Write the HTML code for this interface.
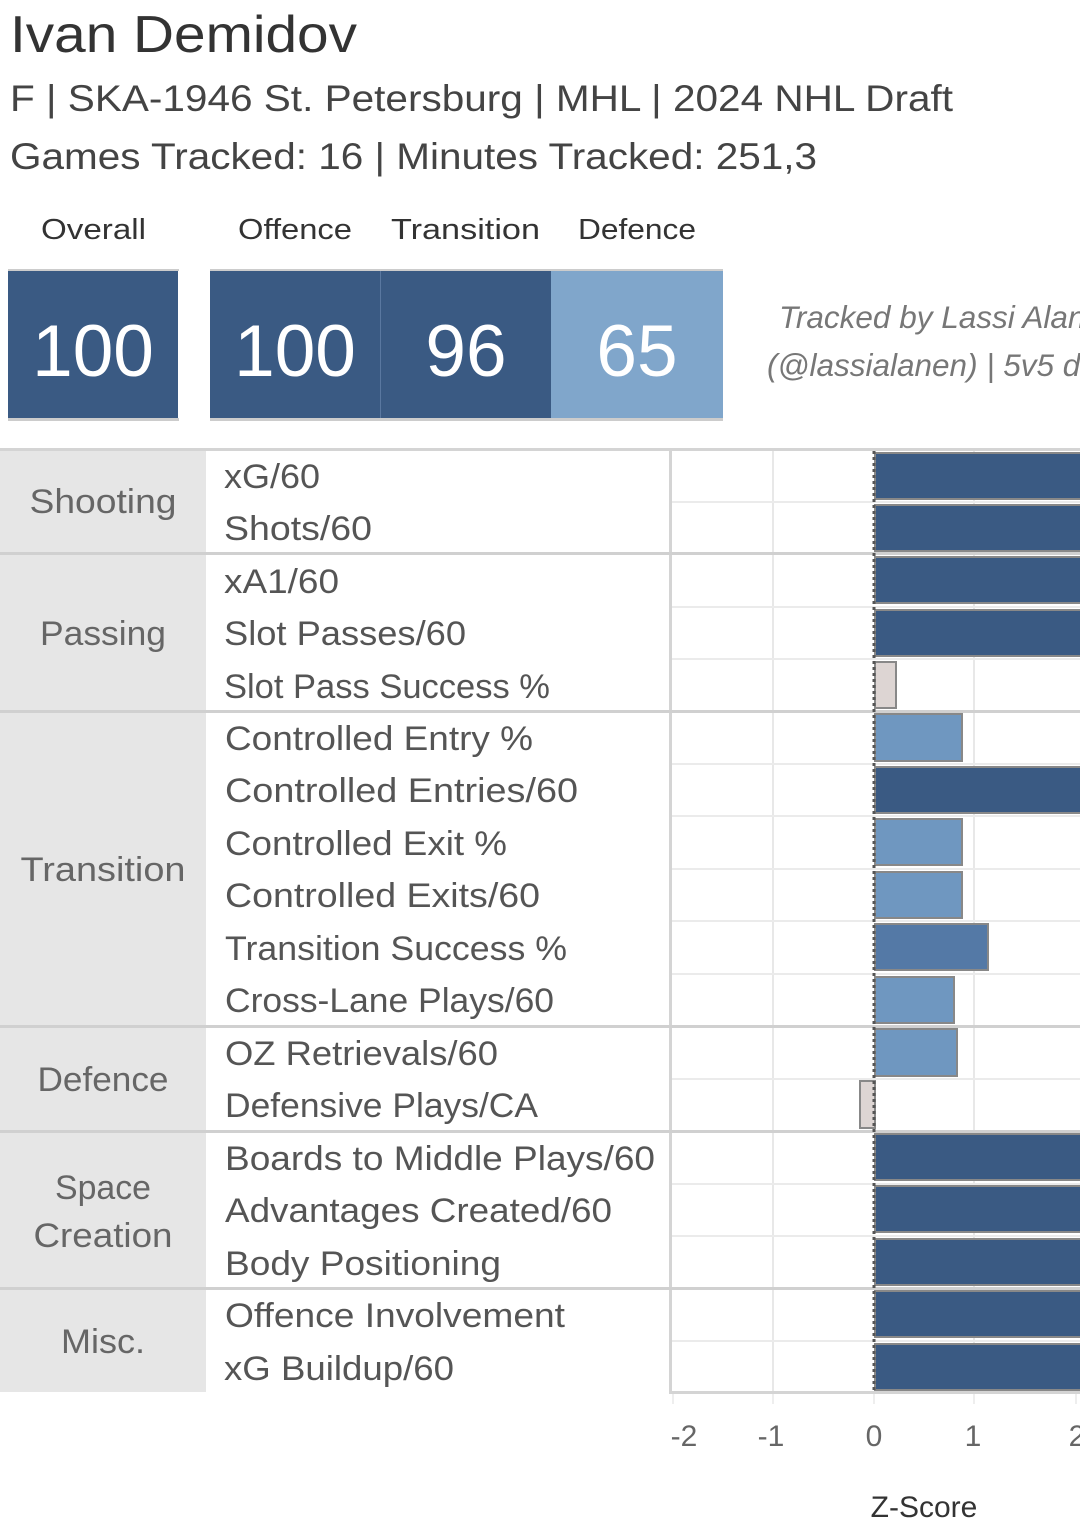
<!DOCTYPE html>
<html><head><meta charset="utf-8"><style>
html,body{margin:0;padding:0;background:#fff;}
svg{display:block;font-family:"Liberation Sans",sans-serif;}
</style></head><body>
<svg width="1080" height="1521" viewBox="0 0 1080 1521" xmlns="http://www.w3.org/2000/svg">
<rect width="1080" height="1521" fill="#fff"/>
<text x="10" y="52" font-size="52" fill="#333" textLength="347" lengthAdjust="spacingAndGlyphs">Ivan Demidov</text>
<text x="10" y="111" font-size="37" fill="#444" textLength="943" lengthAdjust="spacingAndGlyphs">F | SKA-1946 St. Petersburg | MHL | 2024 NHL Draft</text>
<text x="10" y="169" font-size="37" fill="#444" textLength="807" lengthAdjust="spacingAndGlyphs">Games Tracked: 16 | Minutes Tracked: 251,3</text>
<g font-size="29" fill="#333">
<text x="41" y="239" textLength="105" lengthAdjust="spacingAndGlyphs">Overall</text>
<text x="238" y="239" textLength="114" lengthAdjust="spacingAndGlyphs">Offence</text>
<text x="391" y="239" textLength="149" lengthAdjust="spacingAndGlyphs">Transition</text>
<text x="578" y="239" textLength="118" lengthAdjust="spacingAndGlyphs">Defence</text>
</g>
<rect x="8" y="269" width="171" height="2" fill="#ccc"/>
<rect x="210" y="269" width="513" height="2" fill="#ccc"/>
<rect x="8" y="271" width="170" height="147" fill="#3a5a83"/>
<rect x="210" y="271" width="170" height="147" fill="#3a5a83"/>
<rect x="380" y="271" width="1" height="147" fill="#5a78a0"/>
<rect x="381" y="271" width="170" height="147" fill="#3a5a83"/>
<rect x="551" y="271" width="172" height="147" fill="#80a6cb"/>
<rect x="8" y="418" width="171" height="3" fill="#ccc"/>
<rect x="210" y="418" width="513" height="3" fill="#ccc"/>
<g font-size="73" fill="#fff" text-anchor="middle">
<text x="93" y="376">100</text>
<text x="295" y="376">100</text>
<text x="466" y="376">96</text>
<text x="637" y="376">65</text>
</g>
<g font-size="31.5" fill="#777" font-style="italic">
<text x="779" y="328">Tracked by Lassi Alanen</text>
<text x="767" y="376">(@lassialanen) | 5v5 data</text>
</g>
<rect x="0" y="448" width="1080" height="3" fill="#d4d4d4"/>
<rect x="0" y="451" width="206" height="941" fill="#e6e6e6"/>
<g fill="#e8e8e8">
<rect x="772" y="451" width="2" height="941"/>
<rect x="973" y="451" width="2" height="941"/>
</g>
<rect x="669" y="451" width="3" height="942" fill="#d4d4d4"/>
<g fill="#ebebeb">
<rect x="672" y="501" width="408" height="2"/>
<rect x="672" y="606" width="408" height="2"/>
<rect x="672" y="658" width="408" height="2"/>
<rect x="672" y="763" width="408" height="2"/>
<rect x="672" y="815" width="408" height="2"/>
<rect x="672" y="868" width="408" height="2"/>
<rect x="672" y="920" width="408" height="2"/>
<rect x="672" y="973" width="408" height="2"/>
<rect x="672" y="1078" width="408" height="2"/>
<rect x="672" y="1183" width="408" height="2"/>
<rect x="672" y="1235" width="408" height="2"/>
<rect x="672" y="1340" width="408" height="2"/>
</g>
<g fill="#d0d0d0">
<rect x="0" y="552" width="1080" height="3"/>
<rect x="0" y="710" width="1080" height="3"/>
<rect x="0" y="1025" width="1080" height="3"/>
<rect x="0" y="1130" width="1080" height="3"/>
<rect x="0" y="1287" width="1080" height="3"/>
</g>
<rect x="669" y="1391" width="411" height="3" fill="#d4d4d4"/>
<g stroke="#888" stroke-width="2">
<rect x="875" y="453" width="210" height="46" fill="#3a5a83"/>
<rect x="875" y="505" width="210" height="46" fill="#3a5a83"/>
<rect x="875" y="557" width="210" height="46" fill="#3a5a83"/>
<rect x="875" y="610" width="210" height="46" fill="#3a5a83"/>
<rect x="875" y="662" width="21" height="46" fill="#ddd5d3"/>
<rect x="875" y="714" width="87" height="47" fill="#6f97c0"/>
<rect x="875" y="767" width="210" height="46" fill="#3a5a83"/>
<rect x="875" y="819" width="87" height="46" fill="#6f97c0"/>
<rect x="875" y="872" width="87" height="46" fill="#6f97c0"/>
<rect x="875" y="924" width="113" height="46" fill="#5479a6"/>
<rect x="875" y="977" width="79" height="46" fill="#6f97c0"/>
<rect x="875" y="1029" width="82" height="47" fill="#6f97c0"/>
<rect x="860" y="1081" width="15" height="47" fill="#ddd5d3"/>
<rect x="875" y="1134" width="210" height="46" fill="#3a5a83"/>
<rect x="875" y="1186" width="210" height="46" fill="#3a5a83"/>
<rect x="875" y="1239" width="210" height="46" fill="#3a5a83"/>
<rect x="875" y="1291" width="210" height="46" fill="#3a5a83"/>
<rect x="875" y="1344" width="210" height="46" fill="#3a5a83"/>
</g>
<line x1="874" y1="451" x2="874" y2="1392" stroke="#555" stroke-width="3" stroke-dasharray="3,3"/>
<g font-size="34" fill="#666" text-anchor="middle">
<text x="103" y="513" textLength="147" lengthAdjust="spacingAndGlyphs">Shooting</text>
<text x="103" y="645" textLength="126" lengthAdjust="spacingAndGlyphs">Passing</text>
<text x="103" y="881" textLength="165" lengthAdjust="spacingAndGlyphs">Transition</text>
<text x="103" y="1091" textLength="131" lengthAdjust="spacingAndGlyphs">Defence</text>
<text x="103" y="1199" textLength="96" lengthAdjust="spacingAndGlyphs">Space</text>
<text x="103" y="1247" textLength="139" lengthAdjust="spacingAndGlyphs">Creation</text>
<text x="103" y="1353" textLength="84" lengthAdjust="spacingAndGlyphs">Misc.</text>
</g>
<g font-size="34" fill="#555">
<text x="224" y="488" textLength="96" lengthAdjust="spacingAndGlyphs">xG/60</text>
<text x="224" y="540" textLength="148" lengthAdjust="spacingAndGlyphs">Shots/60</text>
<text x="224" y="593" textLength="115" lengthAdjust="spacingAndGlyphs">xA1/60</text>
<text x="224" y="645" textLength="242" lengthAdjust="spacingAndGlyphs">Slot Passes/60</text>
<text x="224" y="698" textLength="326" lengthAdjust="spacingAndGlyphs">Slot Pass Success %</text>
<text x="225" y="750" textLength="308" lengthAdjust="spacingAndGlyphs">Controlled Entry %</text>
<text x="225" y="802" textLength="353" lengthAdjust="spacingAndGlyphs">Controlled Entries/60</text>
<text x="225" y="855" textLength="282" lengthAdjust="spacingAndGlyphs">Controlled Exit %</text>
<text x="225" y="907" textLength="315" lengthAdjust="spacingAndGlyphs">Controlled Exits/60</text>
<text x="225" y="960" textLength="342" lengthAdjust="spacingAndGlyphs">Transition Success %</text>
<text x="225" y="1012" textLength="329" lengthAdjust="spacingAndGlyphs">Cross-Lane Plays/60</text>
<text x="225" y="1065" textLength="273" lengthAdjust="spacingAndGlyphs">OZ Retrievals/60</text>
<text x="225" y="1117" textLength="313" lengthAdjust="spacingAndGlyphs">Defensive Plays/CA</text>
<text x="225" y="1170" textLength="430" lengthAdjust="spacingAndGlyphs">Boards to Middle Plays/60</text>
<text x="225" y="1222" textLength="387" lengthAdjust="spacingAndGlyphs">Advantages Created/60</text>
<text x="225" y="1275" textLength="276" lengthAdjust="spacingAndGlyphs">Body Positioning</text>
<text x="225" y="1327" textLength="340" lengthAdjust="spacingAndGlyphs">Offence Involvement</text>
<text x="224" y="1380" textLength="230" lengthAdjust="spacingAndGlyphs">xG Buildup/60</text>
</g>
<g fill="#eee">
<rect x="672" y="1394" width="2" height="10"/>
<rect x="772" y="1394" width="2" height="10"/>
<rect x="873" y="1394" width="2" height="10"/>
<rect x="973" y="1394" width="2" height="10"/>
<rect x="1075" y="1394" width="2" height="10"/>
</g>
<g font-size="30" fill="#666" text-anchor="middle">
<text x="684" y="1446">-2</text>
<text x="771" y="1446">-1</text>
<text x="874" y="1446">0</text>
<text x="973" y="1446">1</text>
<text x="1077" y="1446">2</text>
</g>
<text x="924" y="1517" font-size="30" fill="#333" text-anchor="middle">Z-Score</text>
</svg>
</body></html>
